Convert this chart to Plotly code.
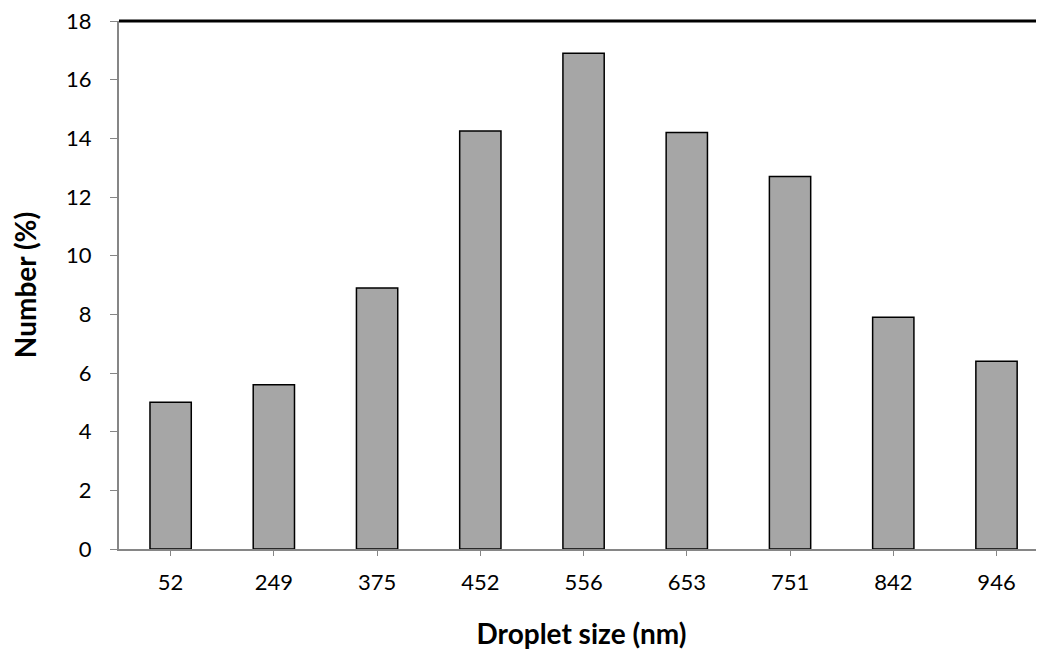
import plotly.graph_objects as go

sizes = ["52", "249", "375", "452", "556", "653", "751", "842", "946"]
number_pct = [5.0, 5.6, 8.9, 14.25, 16.9, 14.2, 12.7, 7.9, 6.4]
y_ticks = [0, 2, 4, 6, 8, 10, 12, 14, 16, 18]

FONT = "Lato"

fig = go.Figure(
    go.Bar(
        x=sizes,
        y=number_pct,
        width=0.4,
        marker=dict(color="#A6A6A6", line=dict(color="#000000", width=1.5)),
        cliponaxis=False,
    )
)

fig.add_shape(type="line", xref="paper", yref="paper", x0=0, x1=1, y0=1, y1=1,
              line=dict(color="#000000", width=3), layer="above")

# page body adds an 8px offset, so the figure is sized to fill the rest of the window
fig.update_layout(
    width=1036,
    height=647,
    margin=dict(l=111, r=0, t=13, b=106, autoexpand=False),
    paper_bgcolor="white",
    plot_bgcolor="white",
    showlegend=False,
    font=dict(family=FONT, color="#000000", size=22),
    bargap=0.6,
)

fig.update_xaxes(
    type="category",
    range=[-0.5, 8.46],
    automargin=False,
    showline=True, linecolor="#868686", linewidth=2,
    ticks="outside", ticklen=5, tickcolor="#868686", tickwidth=1,
    tickfont=dict(family=FONT, size=22),
    ticklabelstandoff=8,
    ticklabeloverflow="allow",
    showgrid=False, zeroline=False,
    title=dict(text="<b>Droplet size (nm)</b>", font=dict(family=FONT, size=28), standoff=30),
)

fig.update_yaxes(
    range=[0, 18],
    tickvals=y_ticks,
    automargin=False,
    showline=True, linecolor="#868686", linewidth=2,
    ticks="outside", ticklen=7, tickcolor="#868686", tickwidth=1,
    tickfont=dict(family=FONT, size=22),
    ticklabelstandoff=14,
    ticklabeloverflow="allow",
    showgrid=False, zeroline=False,
    title=dict(text="<b>Number (%)</b>", font=dict(family=FONT, size=28), standoff=24),
)

fig.write_html("out.html")
